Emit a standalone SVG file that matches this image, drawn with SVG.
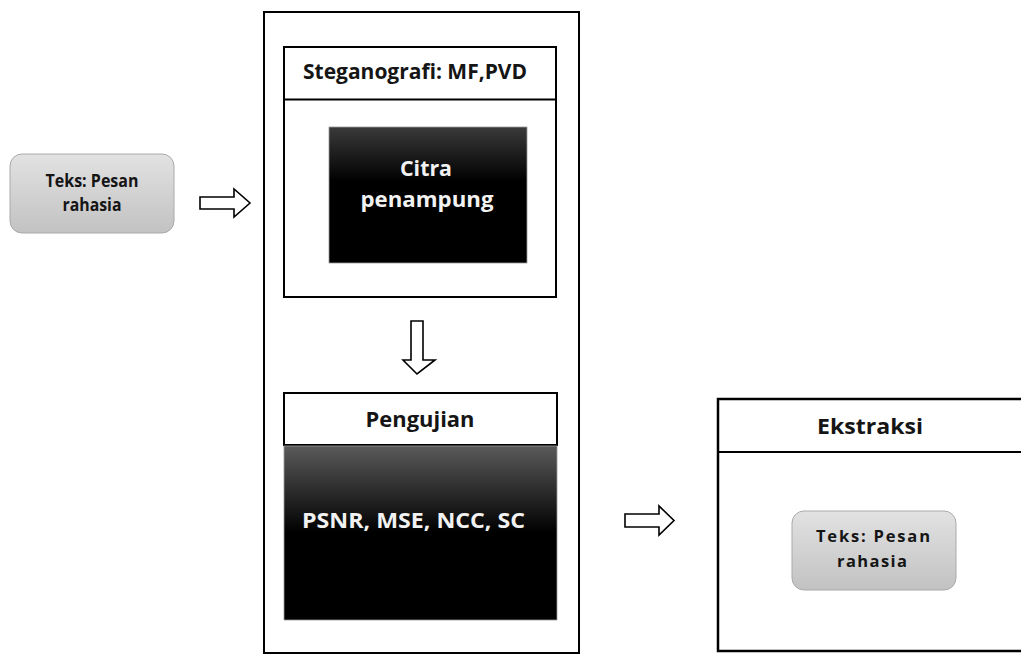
<svg xmlns="http://www.w3.org/2000/svg" width="1021" height="654" viewBox="0 0 1021 654">
  <defs>
    <linearGradient id="grayGrad" x1="0" y1="0" x2="0" y2="1">
      <stop offset="0" stop-color="#e2e2e2"/>
      <stop offset="1" stop-color="#c2c2c2"/>
    </linearGradient>
    <linearGradient id="darkGrad1" x1="0" y1="0" x2="0" y2="1">
      <stop offset="0" stop-color="#3a3a3a"/>
      <stop offset="0.4" stop-color="#000000"/>
      <stop offset="1" stop-color="#000000"/>
    </linearGradient>
    <linearGradient id="darkGrad2" x1="0" y1="0" x2="0" y2="1">
      <stop offset="0" stop-color="#5a5a5a"/>
      <stop offset="0.5" stop-color="#000000"/>
      <stop offset="1" stop-color="#000000"/>
    </linearGradient>
  </defs>
  <style>
    .frame { fill: #ffffff; stroke: #000000; stroke-width: 2; }
    .pill { fill: url(#grayGrad); stroke: #aaaaaa; stroke-width: 1; }
    .arrow { fill: #ffffff; stroke: #000000; stroke-width: 1.6; stroke-linejoin: miter; }
    .t { font-family: "Open Sans", "Liberation Sans", sans-serif; font-weight: bold; text-anchor: middle; }
    .dark { fill: #151515; }
    .light { fill: #f2f2f2; }
  </style>
  <rect width="1021" height="654" fill="#ffffff"/>

  <g id="outer">
    <rect class="frame" x="264" y="12" width="315" height="641"/>
  </g>

  <g id="input">
    <rect class="pill" x="10" y="154" width="164" height="79" rx="12" ry="12"/>
    <text class="t dark" x="92" y="187" font-size="18.5" textLength="93" lengthAdjust="spacingAndGlyphs">Teks: Pesan</text>
    <text class="t dark" x="92" y="211" font-size="18.5" textLength="59" lengthAdjust="spacingAndGlyphs">rahasia</text>
  </g>

  <g id="steganografi">
    <rect class="frame" x="284" y="47" width="272" height="250"/>
    <line x1="284" y1="99.5" x2="556" y2="99.5" stroke="#000" stroke-width="2"/>
    <text class="t dark" x="415" y="79" font-size="22" textLength="224" lengthAdjust="spacingAndGlyphs">Steganografi: MF,PVD</text>
  </g>

  <g id="citra">
    <rect x="329" y="127" width="198" height="136" fill="url(#darkGrad1)" stroke="#999" stroke-width="0.8"/>
    <text class="t light" x="426" y="176" font-size="22" textLength="52" lengthAdjust="spacingAndGlyphs">Citra</text>
    <text class="t light" x="427" y="207" font-size="22" textLength="133" lengthAdjust="spacingAndGlyphs">penampung</text>
  </g>

  <g id="pengujian">
    <rect class="frame" x="284" y="393" width="273" height="52"/>
    <text class="t dark" x="420" y="427" font-size="21" textLength="109" lengthAdjust="spacingAndGlyphs">Pengujian</text>
    <rect x="284" y="446" width="273" height="174" fill="url(#darkGrad2)" stroke="#999" stroke-width="0.8"/>
    <text class="t light" x="413.5" y="528" font-size="21" textLength="223" lengthAdjust="spacingAndGlyphs">PSNR, MSE, NCC, SC</text>
  </g>

  <g id="ekstraksi">
    <rect x="718" y="399" width="320" height="252" fill="#ffffff" stroke="#000" stroke-width="2.5"/>
    <line x1="718" y1="452" x2="1021" y2="452" stroke="#000" stroke-width="2"/>
    <text class="t dark" x="870" y="434" font-size="20.5" textLength="106" lengthAdjust="spacingAndGlyphs">Ekstraksi</text>
  </g>

  <g id="output">
    <rect class="pill" x="792" y="511" width="164" height="79" rx="12" ry="12"/>
    <text class="t dark" x="873" y="542" font-size="16.5" textLength="114" lengthAdjust="spacing">Teks: Pesan</text>
    <text class="t dark" x="872" y="567" font-size="16.5" textLength="70" lengthAdjust="spacing">rahasia</text>
  </g>

  <g id="connectors">
    <polygon class="arrow" points="200,197 234,197 234,189 250,203 234,217 234,209 200,209"/>
    <polygon class="arrow" points="411,321 423,321 423,360 435,360 417,374 403,360 411,360"/>
    <polygon class="arrow" points="625,514 659,514 659,506 674,520.5 659,535 659,527 625,527"/>
  </g>
</svg>
